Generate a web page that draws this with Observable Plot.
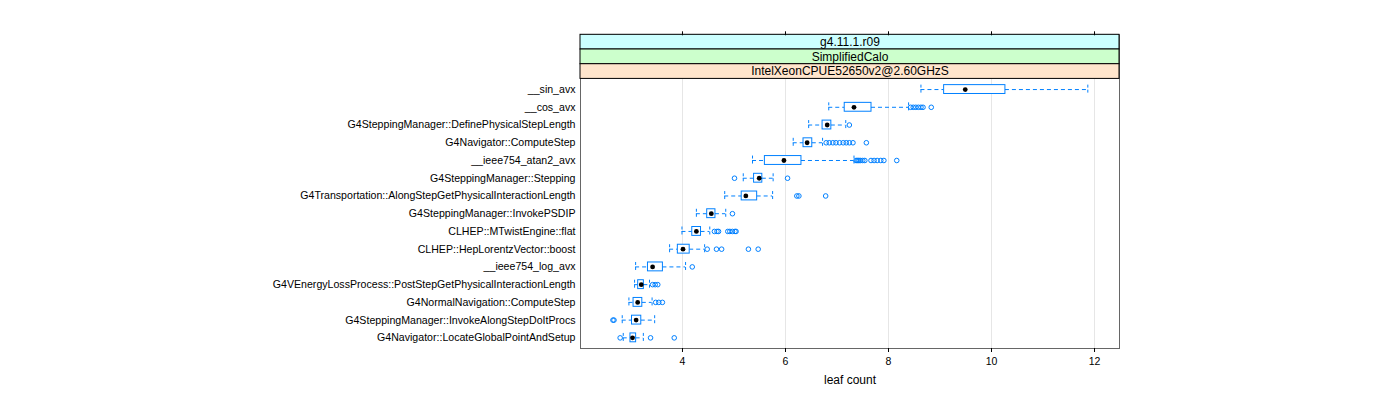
<!DOCTYPE html>
<html><head><meta charset="utf-8">
<script src="https://cdn.jsdelivr.net/npm/d3@7"></script>
<script src="https://cdn.jsdelivr.net/npm/@observablehq/plot@0.6"></script>
<style>body{margin:0;background:#fff}</style>
</head><body><div id="chart"></div>
<script>
const functions = [
  "__sin_avx",
  "__cos_avx",
  "G4SteppingManager::DefinePhysicalStepLength",
  "G4Navigator::ComputeStep",
  "__ieee754_atan2_avx",
  "G4SteppingManager::Stepping",
  "G4Transportation::AlongStepGetPhysicalInteractionLength",
  "G4SteppingManager::InvokePSDIP",
  "CLHEP::MTwistEngine::flat",
  "CLHEP::HepLorentzVector::boost",
  "__ieee754_log_avx",
  "G4VEnergyLossProcess::PostStepGetPhysicalInteractionLength",
  "G4NormalNavigation::ComputeStep",
  "G4SteppingManager::InvokeAlongStepDoItProcs",
  "G4Navigator::LocateGlobalPointAndSetup"
];
const whiskerLow  = [8.63, 6.84, 6.45, 6.15, 5.36, 5.18, 4.82, 4.27, 3.99, 3.75, 3.09, 3.07, 2.96, 2.83, 2.85];
const quartile1   = [9.08, 7.15, 6.72, 6.35, 5.60, 5.39, 5.15, 4.48, 4.19, 3.91, 3.33, 3.14, 3.05, 3.02, 2.99];
const medians     = [9.49, 7.33, 6.81, 6.42, 5.97, 5.49, 5.23, 4.56, 4.27, 4.01, 3.42, 3.20, 3.13, 3.10, 3.03];
const quartile3   = [10.27, 7.67, 6.89, 6.52, 6.31, 5.55, 5.45, 4.64, 4.36, 4.14, 3.62, 3.25, 3.22, 3.20, 3.10];
const whiskerHigh = [11.87, 8.39, 7.17, 6.72, 7.33, 5.76, 5.75, 4.84, 4.53, 4.43, 4.06, 3.36, 3.41, 3.46, 3.24];
const outliers = [
  [],
  [8.43, 8.48, 8.53, 8.58, 8.63, 8.67, 8.83],
  [7.24],
  [6.79, 6.85, 6.92, 6.98, 7.05, 7.12, 7.18, 7.24, 7.31, 7.57],
  [7.37, 7.39, 7.41, 7.43, 7.46, 7.50, 7.54, 7.66, 7.72, 7.78, 7.85, 7.91, 8.16],
  [5.01, 6.04],
  [6.22, 6.26, 6.78],
  [4.97],
  [4.62, 4.67, 4.70, 4.88, 4.92, 4.97, 5.02, 5.04],
  [4.48, 4.66, 4.76, 5.28, 5.47],
  [4.19],
  [3.42, 3.47, 3.52],
  [3.48, 3.54, 3.61],
  [2.65, 2.67],
  [2.79, 3.38, 3.84]
];
const stripLabels = ["g4.11.1.r09", "SimplifiedCalo", "IntelXeonCPUE52650v2@2.60GHzS"];
const stripColors = ["#ccffff", "#ccffcc", "#ffe5cc"];
const xTicks = [4, 6, 8, 10, 12];
const xLabel = "leaf count";

// layout
const xDomain = [2.02, 12.485];
const pad = 0.6, stripH = 0.829;
const yTop = -pad - stripH * stripLabels.length;
const yBottom = functions.length - 1 + pad;
const half = 0.25;
const blue = "#0080ff";

const rows = functions.map((name, i) => ({
  name, i, lo: whiskerLow[i], q1: quartile1[i], med: medians[i], q3: quartile3[i], hi: whiskerHigh[i]
}));
const outPts = outliers.flatMap((vs, i) => vs.map(v => ({i, v})));
const strips = stripLabels.map((label, k) => ({
  label, color: stripColors[k], y1: yTop + k * stripH, y2: yTop + (k + 1) * stripH
}));

const chart = Plot.plot({
  width: 1400, height: 400,
  marginLeft: 580, marginRight: 281, marginTop: 34.3, marginBottom: 52,
  style: {fontFamily: "'Liberation Sans', Arial, sans-serif", fontSize: "10px", color: "black", background: "white"},
  x: {domain: xDomain},
  y: {domain: [yBottom, yTop]},
  marks: [
    Plot.ruleX(xTicks, {x: d => d, y1: -pad, y2: yBottom, stroke: "#e6e6e6"}),
    Plot.ruleY(rows, {y: "i", x1: "lo", x2: "q1", stroke: blue, strokeDasharray: "4,3"}),
    Plot.ruleY(rows, {y: "i", x1: "q3", x2: "hi", stroke: blue, strokeDasharray: "4,3"}),
    Plot.ruleX(rows, {x: "lo", y1: d => d.i - half, y2: d => d.i + half, stroke: blue, strokeDasharray: "3,2"}),
    Plot.ruleX(rows, {x: "hi", y1: d => d.i - half, y2: d => d.i + half, stroke: blue, strokeDasharray: "3,2"}),
    Plot.rect(rows, {x1: "q1", x2: "q3", y1: d => d.i - half, y2: d => d.i + half, fill: "white", stroke: blue}),
    Plot.dot(outPts, {x: "v", y: "i", r: 2.3, stroke: blue, fill: "none", strokeWidth: 1}),
    Plot.dot(rows, {x: "med", y: "i", r: 2.4, fill: "black", stroke: "none"}),
    Plot.frame({stroke: "#666"}),
    Plot.rect(strips, {x1: xDomain[0], x2: xDomain[1], y1: "y1", y2: "y2", fill: "color", stroke: "black"}),
    Plot.text(strips, {x: (xDomain[0] + xDomain[1]) / 2, y: d => (d.y1 + d.y2) / 2, text: "label", fontSize: 12, fill: "black"}),
    Plot.axisX({anchor: "bottom", ticks: xTicks, tickSize: 4, tickPadding: 5, fontSize: 10.5, label: null}),
    Plot.text([xLabel], {frameAnchor: "bottom", dy: 35, fontSize: 12, fill: "black"}),
    Plot.axisX({anchor: "top", ticks: xTicks, tickSize: 4, tickFormat: () => "", label: null}),
    Plot.axisY(d3.range(functions.length), {tickFormat: i => functions[i], tickSize: 0, tickPadding: 5, fontSize: 10.6, label: null})
  ]
});
document.getElementById("chart").appendChild(chart);
</script>
</body></html>
